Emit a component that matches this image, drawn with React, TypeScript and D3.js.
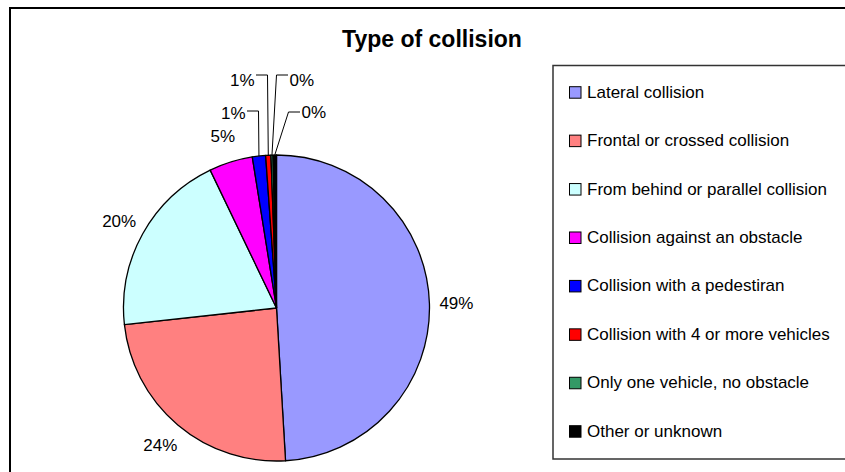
import React from "react";
import * as d3 from "d3";

const categories = [
  "Lateral collision",
  "Frontal or crossed collision",
  "From behind or parallel collision",
  "Collision against an obstacle",
  "Collision with a pedestiran",
  "Collision with 4 or more vehicles",
  "Only one vehicle, no obstacle",
  "Other or unknown",
];
const values = [49.05, 24.2, 19.6, 4.6, 1.4, 0.55, 0.22, 0.36];
const labels = ["49%", "24%", "20%", "5%", "1%", "1%", "0%", "0%"];
const colors = ["#9999FF", "#FF8080", "#CCFFFF", "#FF00FF", "#0000FF", "#FF0000", "#339966", "#000000"];
// leader elbow for small slices, relative to pie centre; side of text; baseline offset
const leaderElbows: ([number, number, "start" | "end", number] | null)[] = [
  null, null, null, null,
  [-18, -197, "end", 7.5],
  [-9, -233, "end", 11],
  [0, -233, "start", 11],
  [12, -196, "start", 6],
];

const W = 845, H = 472;
const cx = 276.5, cy = 308, R = 153;
const FONT = "'Liberation Sans', Arial, sans-serif";

export default function App() {
  const pie = d3.pie<number>().sort(null).startAngle(0).endAngle(2 * Math.PI).value((d) => d);
  const arcs = pie(values);
  const arcGen = d3.arc<d3.PieArcDatum<number>>().innerRadius(0).outerRadius(R);
  const pt = (a: number, r: number): [number, number] => [Math.sin(a) * r, -Math.cos(a) * r];

  const legendY = d3.scaleLinear().domain([0, categories.length - 1]).range([97.7, 436.7]);

  return (
    <svg width={W} height={H} style={{ position: "absolute", left: 0, top: 0, background: "#fff" }}>
      <rect x={10} y={8} width={W + 20} height={H + 20} fill="#fff" stroke="#000" strokeWidth={2} />
      <text x={432} y={46.5} textAnchor="middle" fontFamily={FONT} fontWeight="bold" fontSize={23} fill="#000">
        Type of collision
      </text>
      <g transform={`translate(${cx},${cy})`}>
        {arcs.map((a, i) => (
          <path key={i} d={arcGen(a) || ""} fill={colors[i]} stroke="#000" strokeWidth={1.3} strokeLinejoin="round" />
        ))}
        {arcs.map((a, i) => {
          const mid = (a.startAngle + a.endAngle) / 2;
          const el = leaderElbows[i];
          if (!el) {
            const [x, y] = pt(mid, 180);
            return (
              <text key={i} x={x} y={y} dy="0.35em" textAnchor="middle" fontFamily={FONT} fontSize={17} fill="#000">
                {labels[i]}
              </text>
            );
          }
          const [ax, ay] = pt(mid, R);
          const [ex, ey, side, by] = el;
          const tx = side === "end" ? ex - 13 : ex + 13;
          return (
            <g key={i}>
              <polyline points={`${ax},${ay} ${ex},${ey} ${side === "end" ? tx + 1.5 : tx - 1.5},${ey}`} fill="none" stroke="#000" strokeWidth={1} />
              <text x={tx} y={ey + by} textAnchor={side} fontFamily={FONT} fontSize={17} fill="#000">
                {labels[i]}
              </text>
            </g>
          );
        })}
      </g>
      <rect x={553} y={65.5} width={W} height={393.5} fill="#fff" stroke="#333" strokeWidth={1.5} />
      {categories.map((c, i) => (
        <g key={c}>
          <rect x={569.5} y={legendY(i) - 11} width={11.5} height={11.5} fill={colors[i]} stroke="#000" strokeWidth={1} />
          <text x={587} y={legendY(i)} fontFamily={FONT} fontSize={17} fill="#000">{c}</text>
        </g>
      ))}
    </svg>
  );
}
